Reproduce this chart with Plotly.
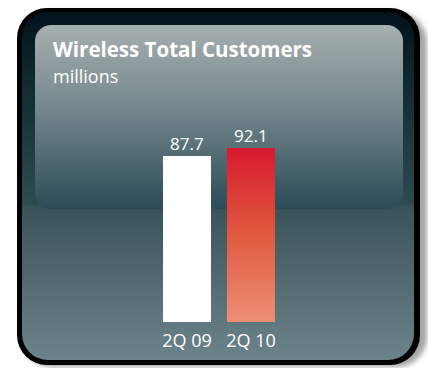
import base64
import plotly.graph_objects as go

# Data
categories = ["2Q 09", "2Q 10"]
customers = [87.7, 92.1]          # wireless total customers, millions
value_labels = ["87.7", "92.1"]

title_text = "Wireless Total Customers"
unit_text = "millions"

# Figure geometry
W, H = 428, 368
L, R, T, B = 27, 17, 133, 46
PW, PH = W - L - R, H - T - B

FONT = "Open Sans"

# Panel artwork (rounded dark frame with gloss) as an inline SVG
panel_svg = f"""<svg xmlns='http://www.w3.org/2000/svg' width='{W}' height='{H}' viewBox='0 0 {W} {H}'>
<defs>
<filter id='sh' x='-10%' y='-10%' width='120%' height='120%'><feGaussianBlur stdDeviation='2.5'/></filter>
<linearGradient id='inner' x1='0' y1='0' x2='0' y2='1'>
<stop offset='0' stop-color='#02121a'/>
<stop offset='0.15' stop-color='#0b2529'/>
<stop offset='0.55' stop-color='#2f4b52'/>
<stop offset='0.565' stop-color='#3a5358'/>
<stop offset='1' stop-color='#6c838a'/>
</linearGradient>
<linearGradient id='gloss' x1='0' y1='0' x2='0' y2='1'>
<stop offset='0' stop-color='#a7afb1'/>
<stop offset='0.45' stop-color='#74878c'/>
<stop offset='1' stop-color='#2c4c57'/>
</linearGradient>
</defs>
<rect x='22' y='12' width='405' height='355' rx='30' fill='rgba(0,0,0,0.35)' filter='url(#sh)'/>
<rect x='17' y='8' width='403' height='357' rx='30' fill='#000'/>
<rect x='22' y='12' width='392' height='348' rx='26' fill='url(#inner)'/>
<rect x='35' y='25' width='368' height='184' rx='16' fill='url(#gloss)'/>
</svg>"""
panel_src = "data:image/svg+xml;base64," + base64.b64encode(panel_svg.encode()).decode()


def px_x(px):
    return (px - L) / PW


def px_y(py):
    return 1 - (py - T) / PH


def hex_mix(c0, c1, t):
    a = [int(c0[i:i + 2], 16) for i in (1, 3, 5)]
    b = [int(c1[i:i + 2], 16) for i in (1, 3, 5)]
    return "#" + "".join(f"{round(x + (y - x) * t):02x}" for x, y in zip(a, b))


def red_ramp(t):
    # t = 0 at the base, 1 at the top
    if t < 0.5:
        return hex_mix("#ec8f75", "#e05a3e", t / 0.5)
    return hex_mix("#e05a3e", "#d71a2e", (t - 0.5) / 0.5)


fig = go.Figure()

# 2Q 09 bar: solid white
fig.add_trace(go.Bar(
    x=[categories[0]], y=[customers[0]], width=0.75,
    marker=dict(color="#ffffff", line=dict(width=0)),
    hoverinfo="x+y", showlegend=False,
))

# 2Q 10 bar: red vertical gradient built from thin stacked slices of its value
N = 60
v = customers[1]
step = v / N
fig.add_trace(go.Bar(
    x=[categories[1]] * N,
    y=[step] * N,
    base=[i * step for i in range(N)],
    width=0.75,
    marker=dict(color=[red_ramp((i + 0.5) / N) for i in range(N)], line=dict(width=0)),
    hoverinfo="skip", showlegend=False,
))

annotations = []
for cat, val, lab in zip(categories, customers, value_labels):
    annotations.append(dict(
        x=cat, y=val, xref="x", yref="y", text=lab, showarrow=False,
        yanchor="bottom", yshift=-1,
        font=dict(family=FONT, size=17, color="#ffffff"),
    ))

annotations.append(dict(
    x=px_x(51), y=px_y(49), xref="paper", yref="paper", text=f"<b>{title_text}</b>",
    showarrow=False, xanchor="left", yanchor="middle",
    font=dict(family=FONT, size=20.5, color="#ffffff"),
))
annotations.append(dict(
    x=px_x(51), y=px_y(76), xref="paper", yref="paper", text=unit_text,
    showarrow=False, xanchor="left", yanchor="middle",
    font=dict(family=FONT, size=18, color="#ffffff"),
))

fig.update_layout(
    width=W, height=H,
    margin=dict(l=L, r=R, t=T, b=B, pad=0),
    paper_bgcolor="#ffffff",
    plot_bgcolor="rgba(0,0,0,0)",
    barmode="overlay", bargap=0, bargroupgap=0,
    showlegend=False,
    annotations=annotations,
    images=[dict(
        source=panel_src, xref="paper", yref="paper",
        x=-L / PW, y=1 + T / PH, sizex=W / PW, sizey=H / PH,
        xanchor="left", yanchor="top", sizing="stretch", layer="below",
    )],
    xaxis=dict(
        range=[-2.5, 3.5], showgrid=False, zeroline=False, showline=False,
        ticks="", tickfont=dict(family=FONT, size=18, color="#ffffff"),
        ticklabelstandoff=6, fixedrange=True,
    ),
    yaxis=dict(
        range=[0, 100], showgrid=False, zeroline=False, showline=False,
        showticklabels=False, ticks="", fixedrange=True,
    ),
)

fig.write_html("out.html", config={"displayModeBar": False})
